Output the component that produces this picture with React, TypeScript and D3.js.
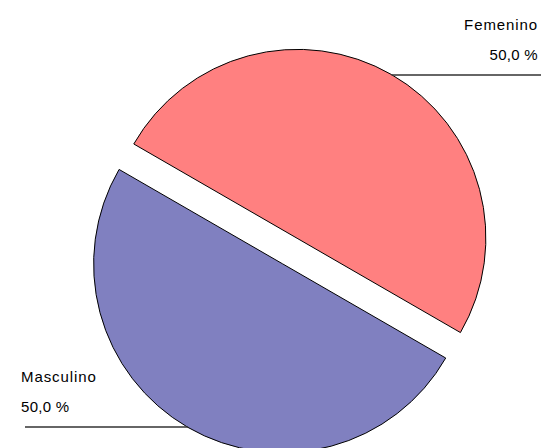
import * as d3 from "d3";
import React from "react";

const labels = ["Femenino", "Masculino"];
const values = [50, 50];
const percentLabels = ["50,0 %", "50,0 %"];
const colors = ["#FF8080", "#8080C0"];

const width = 542;
const height = 448;
const cx = 289.75;
const cy = 251;
const radius = 188.6;
const explode = 14.7;

export default function App() {
  const pie = d3
    .pie<number>()
    .sort(null)
    .startAngle(-Math.PI / 3)
    .endAngle((5 * Math.PI) / 3)
    .value((d) => d);
  const arcs = pie(values);

  const arc = d3.arc<d3.PieArcDatum<number>>().innerRadius(0).outerRadius(radius);
  const edge = d3.arc<d3.PieArcDatum<number>>().innerRadius(radius).outerRadius(radius);

  return (
    <svg
      width={width}
      height={height}
      style={{ position: "absolute", left: 0, top: 0, background: "#fff" }}
      fontFamily="Arial, 'Liberation Sans', sans-serif"
    >
      {arcs.map((a, i) => {
        const mid = (a.startAngle + a.endAngle) / 2;
        const ox = cx + explode * Math.sin(mid);
        const oy = cy - explode * Math.cos(mid);
        const [ex, ey] = edge.centroid(a);
        const px = ox + ex;
        const py = oy + ey;
        const right = Math.sin(mid) > 0;
        const lineEnd = right ? width - 1 : 25;
        return (
          <g key={labels[i]}>
            <path
              d={arc(a) || ""}
              transform={`translate(${ox},${oy})`}
              fill={colors[i]}
              stroke="#000"
              strokeWidth={1}
            />
            <line x1={px} y1={py} x2={lineEnd} y2={py} stroke="#333" strokeWidth={1.6} />
            <text
              x={right ? width - 4 : 21}
              y={py - 45}
              textAnchor={right ? "end" : "start"}
              fontSize={15}
              letterSpacing={0.9}
              fill="#000"
            >
              {labels[i]}
            </text>
            <text
              x={right ? width - 4 : 21}
              y={py - 15}
              textAnchor={right ? "end" : "start"}
              fontSize={15}
              letterSpacing={0.3}
              fill="#000"
            >
              {percentLabels[i]}
            </text>
          </g>
        );
      })}
    </svg>
  );
}
